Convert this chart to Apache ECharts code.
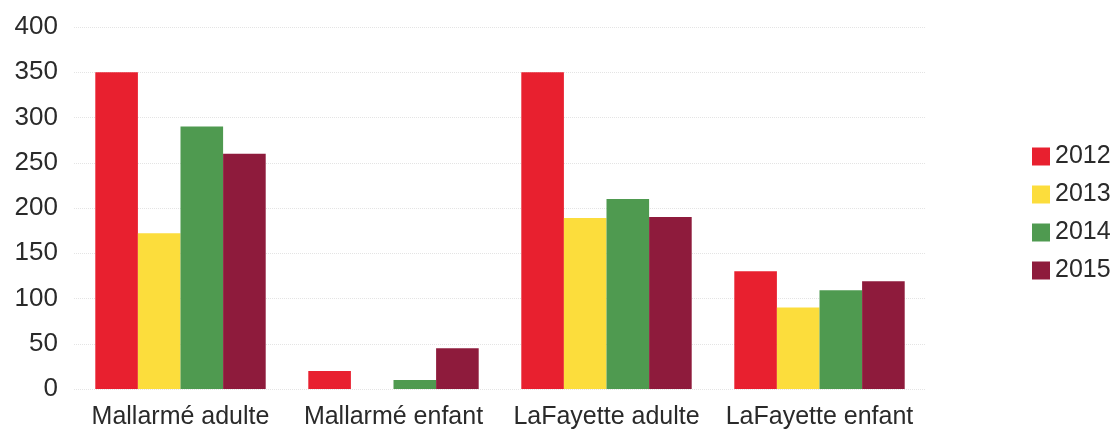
<!DOCTYPE html>
<html><head><meta charset="utf-8">
<script src="https://cdn.jsdelivr.net/npm/echarts@6/dist/echarts.min.js"></script>
<style>html,body{margin:0;padding:0;background:#fff}#c{width:1115px;height:436px}</style>
</head><body><div id="c"></div>
<script>
const categories = ['Mallarmé adulte', 'Mallarmé enfant', 'LaFayette adulte', 'LaFayette enfant'];
const years = ['2012', '2013', '2014', '2015'];
const v2012 = [350, 20, 350, 130];
const v2013 = [172, 0, 189, 90];
const v2014 = [290, 10, 210, 109];
const v2015 = [260, 45, 190, 119];
const colors = ['#e8202f', '#fcdd3c', '#4f9a50', '#8e1b3c'];
const seriesValues = [v2012, v2013, v2014, v2015];

const chart = echarts.init(document.getElementById('c'));
chart.setOption({
  animation: false,
  textStyle: { fontFamily: 'Liberation Sans, Arial, sans-serif' },
  grid: { left: 74, right: 189, top: 27, bottom: 47 },
  legend: {
    orient: 'vertical', left: 1027, top: 139,
    itemWidth: 18, itemHeight: 18, itemGap: 13,
    icon: 'rect',
    textStyle: { fontSize: 25, color: '#2a2a2a', fontFamily: 'Liberation Sans, Arial, sans-serif' },
    data: years
  },
  xAxis: {
    type: 'category', data: categories,
    axisLine: { show: false }, axisTick: { show: false },
    axisLabel: { fontSize: 25, color: '#2a2a2a', margin: 16, interval: 0 }
  },
  yAxis: {
    type: 'value', min: 0, max: 400, interval: 50,
    axisLine: { show: false }, axisTick: { show: false },
    axisLabel: { fontSize: 26, color: '#2a2a2a', margin: 16 },
    splitLine: { lineStyle: { color: '#e4e4e4', type: 'dotted', width: 1 } }
  },
  series: years.map((y, i) => ({
    name: y, type: 'bar', data: seriesValues[i],
    itemStyle: { color: colors[i] },
    barGap: '0%', barCategoryGap: '20%'
  }))
});
</script></body></html>
